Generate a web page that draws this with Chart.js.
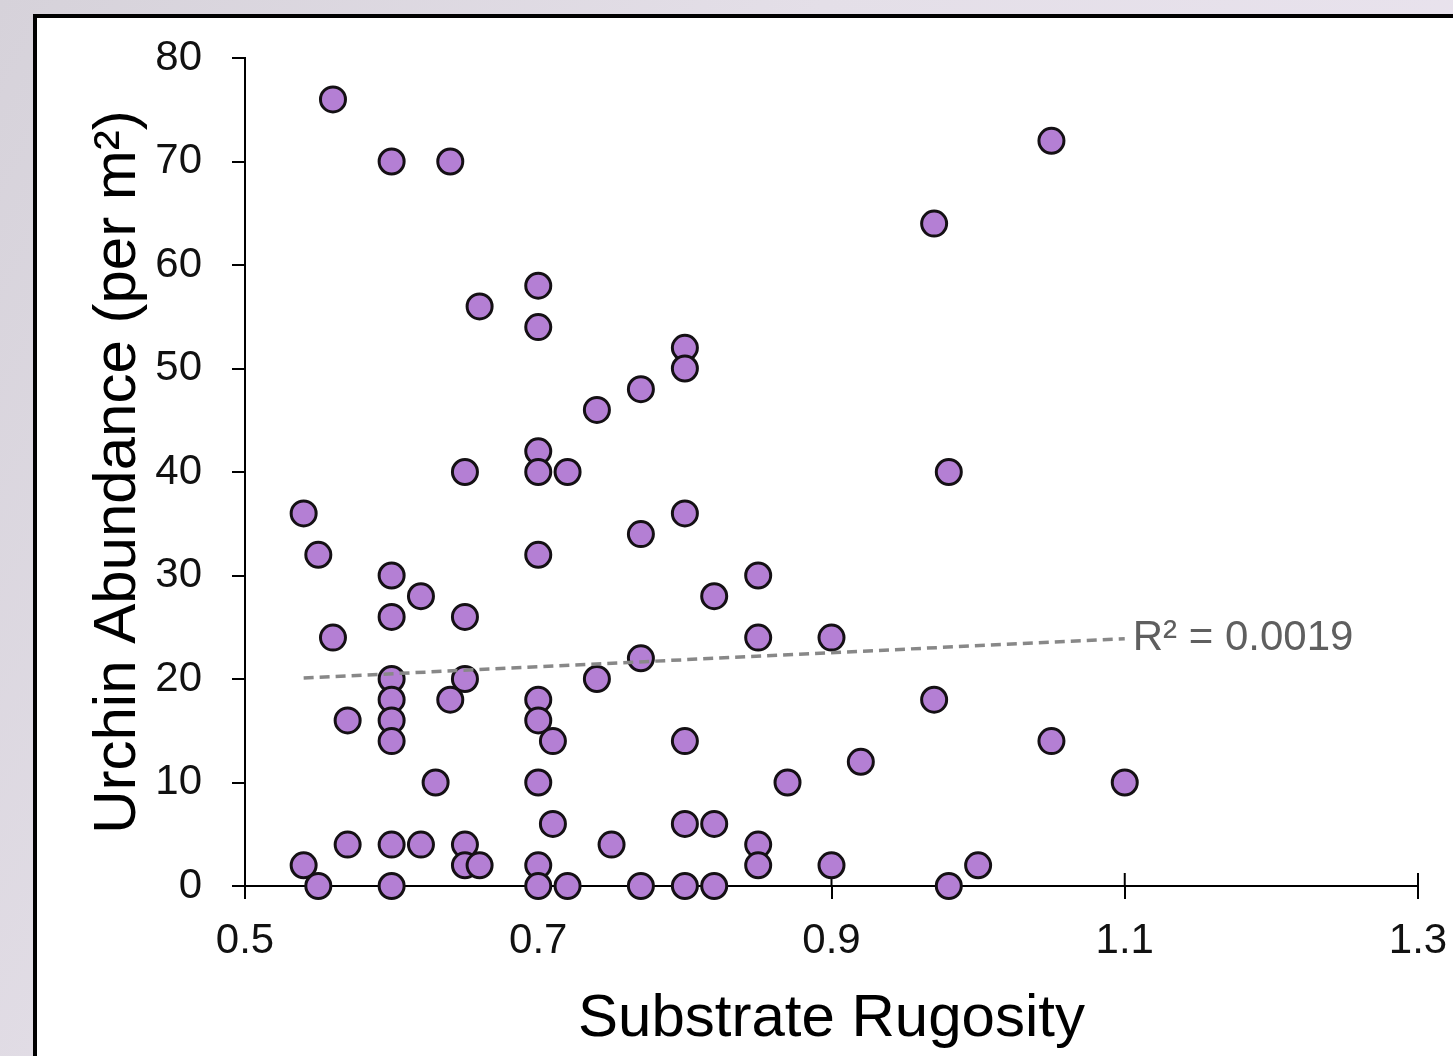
<!DOCTYPE html>
<html>
<head>
<meta charset="utf-8">
<title>Urchin Abundance vs Substrate Rugosity</title>
<script src="https://cdn.jsdelivr.net/npm/chart.js"></script>
<style>
  html, body { margin: 0; padding: 0; }
  body {
    width: 1453px;
    height: 1056px;
    overflow: hidden;
    position: relative;
    background: linear-gradient(120deg, #d6d2da 0%, #e4dfe8 40%, #ece5f1 100%);
  }
  #panel {
    position: absolute;
    left: 33px;
    top: 14px;
    width: 1440px;
    height: 1060px;
    background: #fff;
    border-left: 4px solid #000;
    border-top: 4px solid #000;
  }
  #chart {
    position: absolute;
    left: 0;
    top: 0;
  }
</style>
</head>
<body>
<div id="panel"></div>
<canvas id="chart" width="1453" height="1056"></canvas>

<script>
// data
let rugosity = [
  0.56, 0.60, 0.64, 1.05, 0.97, 0.70, 0.66, 0.70, 0.80, 0.80,
  0.77, 0.74, 0.70, 0.70, 0.72, 0.65, 0.98, 0.54, 0.80, 0.77,
  0.55, 0.70, 0.60, 0.85, 0.62, 0.82, 0.60, 0.65, 0.56, 0.85,
  0.90, 0.77, 0.60, 0.65, 0.74, 0.60, 0.64, 0.70, 0.97, 0.57,
  0.60, 0.70, 0.60, 0.71, 0.80, 1.05, 0.92, 0.63, 0.70, 0.87,
  1.10, 0.71, 0.80, 0.82, 0.57, 0.60, 0.62, 0.65, 0.75, 0.85,
  0.54, 0.65, 0.66, 0.70, 0.85, 0.90, 1.00,
  0.55, 0.60, 0.70, 0.72, 0.77, 0.80, 0.82, 0.98
];
let abundance = [
  76, 70, 70, 72, 64, 58, 56, 54, 52, 50,
  48, 46, 42, 40, 40, 40, 40, 36, 36, 34,
  32, 32, 30, 30, 28, 28, 26, 26, 24, 24,
  24, 22, 20, 20, 20, 18, 18, 18, 18, 16,
  16, 16, 14, 14, 14, 14, 12, 10, 10, 10,
  10, 6, 6, 6, 4, 4, 4, 4, 4, 4,
  2, 2, 2, 2, 2, 2, 2,
  0, 0, 0, 0, 0, 0, 0, 0
];

// trend line ends as drawn
let trendX = [0.54, 1.10];
let trendY = [20.1, 23.9];
let trendLabel = "R\u00b2 = 0.0019";

let xTicks = [0.5, 0.7, 0.9, 1.1, 1.3];
let yTicks = [0, 10, 20, 30, 40, 50, 60, 70, 80];

let fontFamily = 'Arial, "Liberation Sans", sans-serif';

let points = rugosity.map((x, i) => ({ x: x, y: abundance[i] }));
let trend = trendX.map((x, i) => ({ x: x, y: trendY[i] }));

// tick marks above the x axis (the reference ticks cross the axis)
// plus the R² text at the end of the trend line
let extras = {
  id: "extras",
  beforeDatasetsDraw(chart) {
    let ctx = chart.ctx;
    let xs = chart.scales.x;
    ctx.save();
    ctx.strokeStyle = "#000";
    ctx.lineWidth = 2;
    for (const v of xTicks) {
      if (v === xTicks[0]) continue;
      let px = xs.getPixelForValue(v);
      ctx.beginPath();
      ctx.moveTo(px, xs.top - 13);
      ctx.lineTo(px, xs.top);
      ctx.stroke();
    }
    ctx.restore();
  },
  afterDraw(chart) {
    let ctx = chart.ctx;
    let px = chart.scales.x.getPixelForValue(trendX[1]);
    let py = chart.scales.y.getPixelForValue(trendY[1]);
    ctx.save();
    ctx.font = "42px " + fontFamily;
    ctx.fillStyle = "#5f5f5f";
    ctx.textAlign = "left";
    ctx.textBaseline = "middle";
    ctx.fillText(trendLabel, px + 8, py);
    ctx.restore();
  }
};

new Chart(document.getElementById("chart"), {
  type: "scatter",
  data: {
    datasets: [
      {
        type: "line",
        data: trend,
        borderColor: "#888888",
        borderWidth: 3.5,
        borderDash: [10, 6],
        pointRadius: 0,
        fill: false,
        order: 0
      },
      {
        data: points,
        pointRadius: 12.5,
        pointBackgroundColor: "#b47fd4",
        pointBorderColor: "#141014",
        pointBorderWidth: 3,
        clip: false,
        order: 1
      }
    ]
  },
  options: {
    responsive: false,
    animation: false,
    events: [],
    layout: { padding: { left: 0, top: 58, right: 35, bottom: 0 } },
    plugins: {
      legend: { display: false },
      tooltip: { enabled: false }
    },
    scales: {
      x: {
        type: "linear",
        min: xTicks[0],
        max: xTicks[xTicks.length - 1],
        afterBuildTicks: (s) => { s.ticks = xTicks.map(v => ({ value: v })); },
        afterFit: (s) => {
          s.height = 170;
          s.paddingLeft = 0;
          s.paddingRight = 0;
        },
        ticks: {
          color: "#111",
          font: { family: fontFamily, size: 42 },
          padding: 17,
          maxRotation: 0,
          autoSkip: false,
          callback: (v) => v.toFixed(1)
        },
        grid: {
          drawOnChartArea: false,
          tickLength: 13,
          color: "#000",
          lineWidth: 2
        },
        border: { display: true, color: "#000", width: 2 },
        title: {
          display: true,
          text: "Substrate Rugosity",
          color: "#000",
          font: { family: fontFamily, size: 60 },
          padding: { top: 0, bottom: 1 }
        }
      },
      y: {
        min: yTicks[0],
        max: yTicks[yTicks.length - 1],
        afterBuildTicks: (s) => { s.ticks = yTicks.map(v => ({ value: v })); },
        afterFit: (s) => {
          s.width = 245;
          s.paddingTop = 0;
          s.paddingBottom = 0;
        },
        ticks: {
          color: "#111",
          font: { family: fontFamily, size: 42 },
          padding: 30
        },
        grid: {
          drawOnChartArea: false,
          tickLength: 13,
          color: "#000",
          lineWidth: 2
        },
        border: { display: true, color: "#000", width: 2 },
        title: {
          display: true,
          text: "Urchin Abundance (per m\u00b2)",
          color: "#000",
          font: { family: fontFamily, size: 60 },
          padding: { top: 82, bottom: 0 }
        }
      }
    }
  },
  plugins: [extras]
});
</script>
</body>
</html>
